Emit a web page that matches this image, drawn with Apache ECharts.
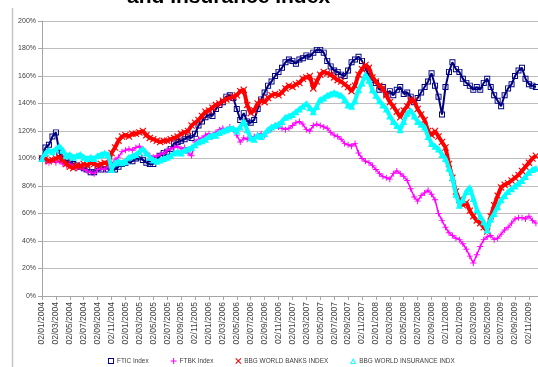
<!DOCTYPE html>
<html>
<head>
<meta charset="utf-8">
<script src="https://cdn.jsdelivr.net/npm/echarts@6/dist/echarts.min.js"></script>
<style>
  html, body { margin: 0; padding: 0; background: #ffffff; }
  #chart { width: 538px; height: 367px; }
</style>
</head>
<body>
<div id="chart"></div>
<script>
// Half-month samples starting 02/01/2004 (index i -> month offset i * STEP)
const STEP = 0.5;

// Axis tick labels, one every two months
const tickLabels = [
  '02/01/2004', '02/03/2004', '02/05/2004', '02/07/2004', '02/09/2004', '02/11/2004',
  '02/01/2005', '02/03/2005', '02/05/2005', '02/07/2005', '02/09/2005', '02/11/2005',
  '02/01/2006', '02/03/2006', '02/05/2006', '02/07/2006', '02/09/2006', '02/11/2006',
  '02/01/2007', '02/03/2007', '02/05/2007', '02/07/2007', '02/09/2007', '02/11/2007',
  '02/01/2008', '02/03/2008', '02/05/2008', '02/07/2008', '02/09/2008', '02/11/2008',
  '02/01/2009', '02/03/2009', '02/05/2009', '02/07/2009', '02/09/2009', '02/11/2009'
];

// Rebased index levels (%), 02/01/2004 = 100
const ftic = [
  100,108,110,116,119,104,100,98,97,96,95,94,
  93,92,90,90,93,92,94,92,93,92,94,96,
  97,99,98,100,101,99,97,96,96,99,102,104,
  105,107,111,112,113,114,116,115,118,124,127,130,
  132,131,136,139,141,145,146,144,136,128,133,127,
  126,128,136,143,148,153,156,160,163,166,170,172,
  171,169,172,173,175,174,177,179,179,177,171,167,
  164,163,161,160,164,170,172,174,171,166,160,157,
  155,150,152,147,149,146,150,152,147,148,145,141,
  144,148,152,156,162,153,145,132,152,163,170,165,
  163,158,155,153,150,152,150,155,158,152,146,142,
  138,146,151,154,160,164,166,158,154,153,152
];

const ftbk = [
  100,98,97,99,97,98,96,95,96,94,93,94,
  92,91,90,89,92,93,92,94,96,99,101,105,
  106,107,106,108,109,107,104,102,101,102,103,104,
  106,107,108,109,107,108,104,102,112,114,115,117,
  118,116,119,121,122,121,123,121,117,112,115,114,
  115,116,117,118,117,120,122,124,123,122,121,122,
  124,126,127,125,121,120,124,125,124,123,122,119,
  117,116,114,111,110,109,111,104,100,98,97,95,
  92,89,87,86,85,89,91,89,87,84,78,72,
  69,73,75,77,74,70,60,55,50,46,44,42,
  41,38,34,29,24,30,36,41,43,44,41,42,
  45,48,50,53,56,57,57,56,58,55,53
];

const worldBanks = [
  100,100,98,99,100,101,99,96,94,93,95,94,
  96,95,97,96,95,96,97,96,104,108,113,116,
  117,116,118,118,119,120,117,115,114,113,112,113,
  113,114,115,116,118,119,120,124,126,128,131,134,
  135,137,139,140,142,143,144,145,146,149,150,139,
  133,135,140,142,141,144,146,147,146,148,151,153,
  152,154,155,158,159,160,151,156,161,163,162,161,
  159,157,156,154,152,149,153,161,165,168,166,159,
  156,153,151,146,141,138,134,130,135,138,143,142,
  136,132,128,120,117,120,116,112,108,96,86,76,
  70,66,68,62,58,55,53,50,47,58,66,73,
  79,81,82,84,86,88,91,94,97,100,102
];

const worldInsurance = [
  100,104,106,105,107,109,106,102,103,101,102,103,
  101,100,101,100,102,103,104,103,92,97,98,97,
  98,101,102,103,105,107,104,101,99,98,99,100,
  101,102,104,105,104,106,107,108,110,112,113,114,
  116,117,117,119,120,121,122,122,120,123,127,121,
  115,114,117,116,118,121,123,124,125,127,130,131,
  132,134,136,138,140,137,134,138,143,144,146,147,
  148,147,146,143,139,138,142,150,155,161,157,150,
  146,142,139,136,131,127,124,121,127,133,135,131,
  127,125,123,116,111,109,107,103,100,93,86,74,
  66,70,76,79,71,63,58,54,48,56,60,65,
  70,73,76,78,80,82,84,87,90,92,93
];

const seriesNames = ['FTIC Index', 'FTBK Index', 'BBG WORLD BANKS INDEX', 'BBG WORLD INSURANCE INDX'];
const seriesColors = ['#000080', '#FF00FF', '#FF0000', '#00FFFF'];

// Marker shapes
const ICON_SQUARE = 'path://M0,0h10v10h-10zM1.6,1.6v6.8h6.8v-6.8z';
const ICON_PLUS = 'path://M4.2,0h1.6v10h-1.6zM0,4.2h10v1.6h-10z';
const ICON_CROSS = 'path://M1.2,0L5,3.8L8.8,0L10,1.2L6.2,5L10,8.8L8.8,10L5,6.2L1.2,10L0,8.8L3.8,5L0,1.2z';
const ICON_TRIANGLE = 'path://M5,0L10,10H0zM5,3.2L2.4,8.6H7.6z';

const FONT = "'Liberation Sans', Arial, sans-serif";

function toPoints(values) {
  return values.map((v, i) => [i * STEP, v]);
}

function makeSeries(idx, values, symbol, size, lineWidth) {
  const color = seriesColors[idx];
  return {
    name: seriesNames[idx],
    type: 'line',
    data: toPoints(values),
    symbol: symbol,
    symbolSize: size,
    showSymbol: true,
    showAllSymbol: true,
    itemStyle: { color: color, borderWidth: 0 },
    lineStyle: { color: color, width: lineWidth },
    emphasis: { disabled: true },
    z: 2 + idx,
    animation: false
  };
}

const chart = echarts.init(document.getElementById('chart'), null, { renderer: 'canvas' });

chart.setOption({
  animation: false,
  backgroundColor: '#ffffff',
  title: {
    text: 'and Insurance Index',
    left: 122,
    top: -18,
    textStyle: { fontFamily: FONT, fontSize: 21, fontWeight: 'bold', color: '#000000' }
  },
  graphic: [{
    type: 'line',
    shape: { x1: 12.5, y1: 8, x2: 12.5, y2: 367 },
    style: { stroke: '#c6c6c6', lineWidth: 1.5 },
    silent: true
  }],
  legend: {
    left: 103,
    top: 353,
    itemWidth: 6,
    itemHeight: 6,
    itemGap: 22,
    textStyle: { fontFamily: FONT, fontSize: 6.4, color: '#404040', padding: [0, 0, 0, -2] },
    data: [
      { name: seriesNames[0], icon: ICON_SQUARE, itemStyle: { color: seriesColors[0] } },
      { name: seriesNames[1], icon: ICON_PLUS, itemStyle: { color: seriesColors[1] } },
      { name: seriesNames[2], icon: ICON_CROSS, itemStyle: { color: seriesColors[2] } },
      { name: seriesNames[3], icon: ICON_TRIANGLE, itemStyle: { color: seriesColors[3] } }
    ],
    selectedMode: false
  },
  grid: { left: 42, right: 0, top: 21, bottom: 71, containLabel: false },
  xAxis: {
    type: 'value',
    min: 0,
    max: 71.3,
    interval: 2,
    axisLine: { show: true, lineStyle: { color: '#a6a6a6', width: 1 } },
    axisTick: {
      show: true, inside: false, length: 4,
      customValues: tickLabels.map((_, i) => i * 2),
      lineStyle: { color: '#a6a6a6' }
    },
    splitLine: { show: false },
    axisLabel: {
      customValues: tickLabels.map((_, i) => i * 2),
      formatter: v => tickLabels[Math.round(v / 2)] || '',
      rotate: 90,
      margin: 6,
      fontFamily: FONT,
      fontSize: 8.5,
      color: '#404040'
    }
  },
  yAxis: {
    type: 'value',
    min: 0,
    max: 200,
    interval: 20,
    axisLine: { show: true, lineStyle: { color: '#a6a6a6', width: 1 } },
    axisTick: { show: true, inside: false, length: 4, lineStyle: { color: '#a6a6a6' } },
    splitLine: { show: true, lineStyle: { color: '#bdbdbd', width: 1 } },
    axisLabel: {
      formatter: '{value}%',
      margin: 6,
      fontFamily: FONT,
      fontSize: 7,
      color: '#404040'
    }
  },
  series: [
    makeSeries(0, ftic, ICON_SQUARE, 6, 2),
    makeSeries(1, ftbk, ICON_PLUS, 6, 1.5),
    makeSeries(2, worldBanks, ICON_CROSS, 7, 4),
    makeSeries(3, worldInsurance, 'triangle', 7, 4)
  ]
});
</script>
</body>
</html>
